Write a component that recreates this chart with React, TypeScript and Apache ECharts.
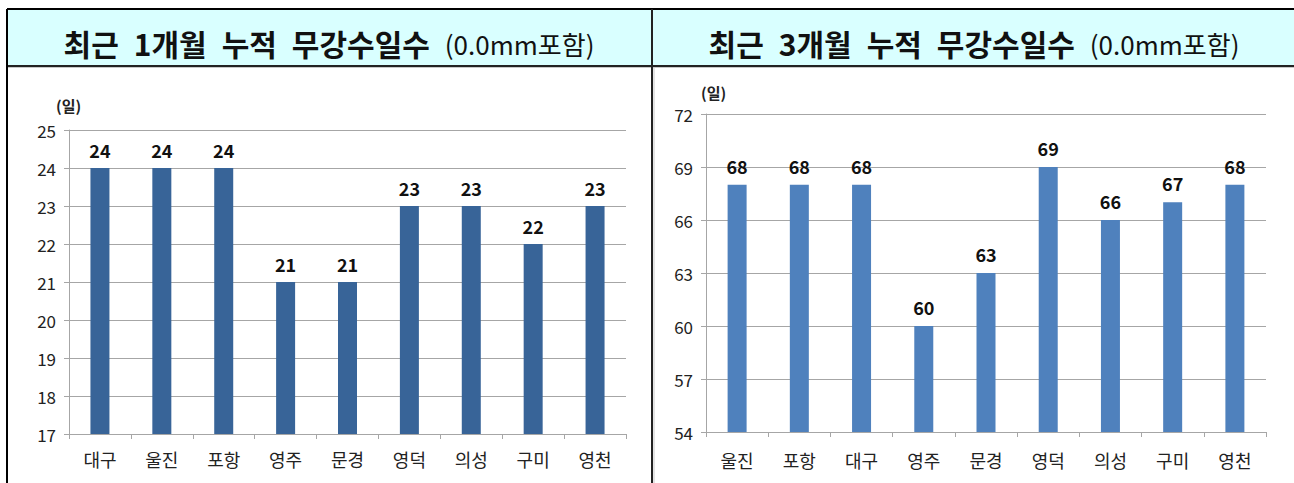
import React, { useEffect, useRef } from "react";
import * as echarts from "echarts";

const leftTitleWords = ["최근", "1개월", "누적", "무강수일수"];
const rightTitleWords = ["최근", "3개월", "누적", "무강수일수"];
const titleNote = "(0.0mm포함)";
const unitLabel = "(일)";

const leftCategories = ["대구", "울진", "포항", "영주", "문경", "영덕", "의성", "구미", "영천"];
const leftValues = [24, 24, 24, 21, 21, 23, 23, 22, 23];

const rightCategories = ["울진", "포항", "대구", "영주", "문경", "영덕", "의성", "구미", "영천"];
const rightValues = [68, 68, 68, 60, 63, 69, 66, 67, 68];

const FONT = "'Noto Sans CJK KR', 'Noto Sans', sans-serif";

export default function App() {
  const ref = useRef<HTMLDivElement>(null);
  useEffect(() => {
    if (!ref.current) return;
    const chart = echarts.init(ref.current, undefined, { renderer: "svg" });
    const axisLineStyle = { color: "#a6a6a6", width: 1 };
    const catAxis = (idx: number, data: string[], margin: number) => ({
      type: "category" as const,
      gridIndex: idx,
      data,
      boundaryGap: true,
      axisLine: { show: true, lineStyle: axisLineStyle },
      axisTick: { show: true, alignWithLabel: false, length: 5, lineStyle: axisLineStyle },
      axisLabel: { color: "#222", fontSize: 18, margin, fontFamily: FONT },
    });
    const valAxis = (idx: number, min: number, max: number, interval: number) => ({
      type: "value" as const,
      gridIndex: idx,
      min,
      max,
      interval,
      axisLine: { show: true, lineStyle: axisLineStyle },
      axisTick: { show: true, length: 5, lineStyle: axisLineStyle },
      axisLabel: { color: "#222", fontSize: 17, margin: 13, fontFamily: FONT },
      splitLine: { show: true, lineStyle: { color: "#a6a6a6", width: 1 } },
    });
    const titleText = (words: string[]) =>
      `{b|${words.join("\u2002")}\u2002}{n|${titleNote}}`;
    const titleRich = {
      b: { fontSize: 30, fontWeight: "bold", fill: "#111", fontFamily: FONT },
      n: { fontSize: 26, fill: "#111", fontFamily: FONT },
    };
    chart.setOption({
      animation: false,
      backgroundColor: "#ffffff",
      grid: [
        { left: 69, right: 668, top: 130, bottom: 49 },
        { left: 706, right: 28, top: 114, bottom: 51 },
      ],
      xAxis: [catAxis(0, leftCategories, 16), catAxis(1, rightCategories, 19)],
      yAxis: [valAxis(0, 17, 25, 1), valAxis(1, 54, 72, 3)],
      series: [
        {
          type: "bar",
          xAxisIndex: 0,
          yAxisIndex: 0,
          data: leftValues,
          barWidth: 19,
          itemStyle: { color: "#386498" },
          label: {
            show: true,
            position: "top",
            distance: 9,
            color: "#111",
            fontWeight: "bold",
            fontSize: 18,
            fontFamily: FONT,
          },
        },
        {
          type: "bar",
          xAxisIndex: 1,
          yAxisIndex: 1,
          data: rightValues,
          barWidth: 19,
          itemStyle: { color: "#4f81bd" },
          label: {
            show: true,
            position: "top",
            distance: 10,
            color: "#111",
            fontWeight: "bold",
            fontSize: 18,
            fontFamily: FONT,
          },
        },
      ],
      graphic: [
        { type: "rect", shape: { x: 7, y: 9, width: 1290, height: 57 }, style: { fill: "#d9ffff" }, z: 0 },
        { type: "line", shape: { x1: 7, y1: 9, x2: 1294, y2: 9 }, style: { stroke: "#000", lineWidth: 2 } },
        { type: "line", shape: { x1: 7, y1: 66, x2: 1294, y2: 66 }, style: { stroke: "#222", lineWidth: 2 } },
        { type: "line", shape: { x1: 8, y1: 67.5, x2: 1294, y2: 67.5 }, style: { stroke: "#c8c8c8", lineWidth: 1 } },
        { type: "line", shape: { x1: 7, y1: 9, x2: 7, y2: 483 }, style: { stroke: "#000", lineWidth: 2 } },
        { type: "line", shape: { x1: 652, y1: 9, x2: 652, y2: 483 }, style: { stroke: "#222", lineWidth: 2 } },
        { type: "line", shape: { x1: 654, y1: 67, x2: 654, y2: 483 }, style: { stroke: "#c8c8c8", lineWidth: 1 } },
        {
          type: "text",
          x: 329,
          y: 43,
          style: { text: titleText(leftTitleWords), align: "center", verticalAlign: "middle", rich: titleRich },
        },
        {
          type: "text",
          x: 974,
          y: 43,
          style: { text: titleText(rightTitleWords), align: "center", verticalAlign: "middle", rich: titleRich },
        },
        {
          type: "text",
          x: 56,
          y: 105,
          style: { text: unitLabel, fontSize: 15, fontWeight: "bold", fill: "#222", fontFamily: FONT, verticalAlign: "middle" },
        },
        {
          type: "text",
          x: 701,
          y: 92,
          style: { text: unitLabel, fontSize: 15, fontWeight: "bold", fill: "#222", fontFamily: FONT, verticalAlign: "middle" },
        },
      ],
    });
    return () => chart.dispose();
  }, []);
  return (
    <div
      ref={ref}
      style={{ position: "fixed", left: 0, top: 0, width: 1294, height: 483 }}
    />
  );
}
